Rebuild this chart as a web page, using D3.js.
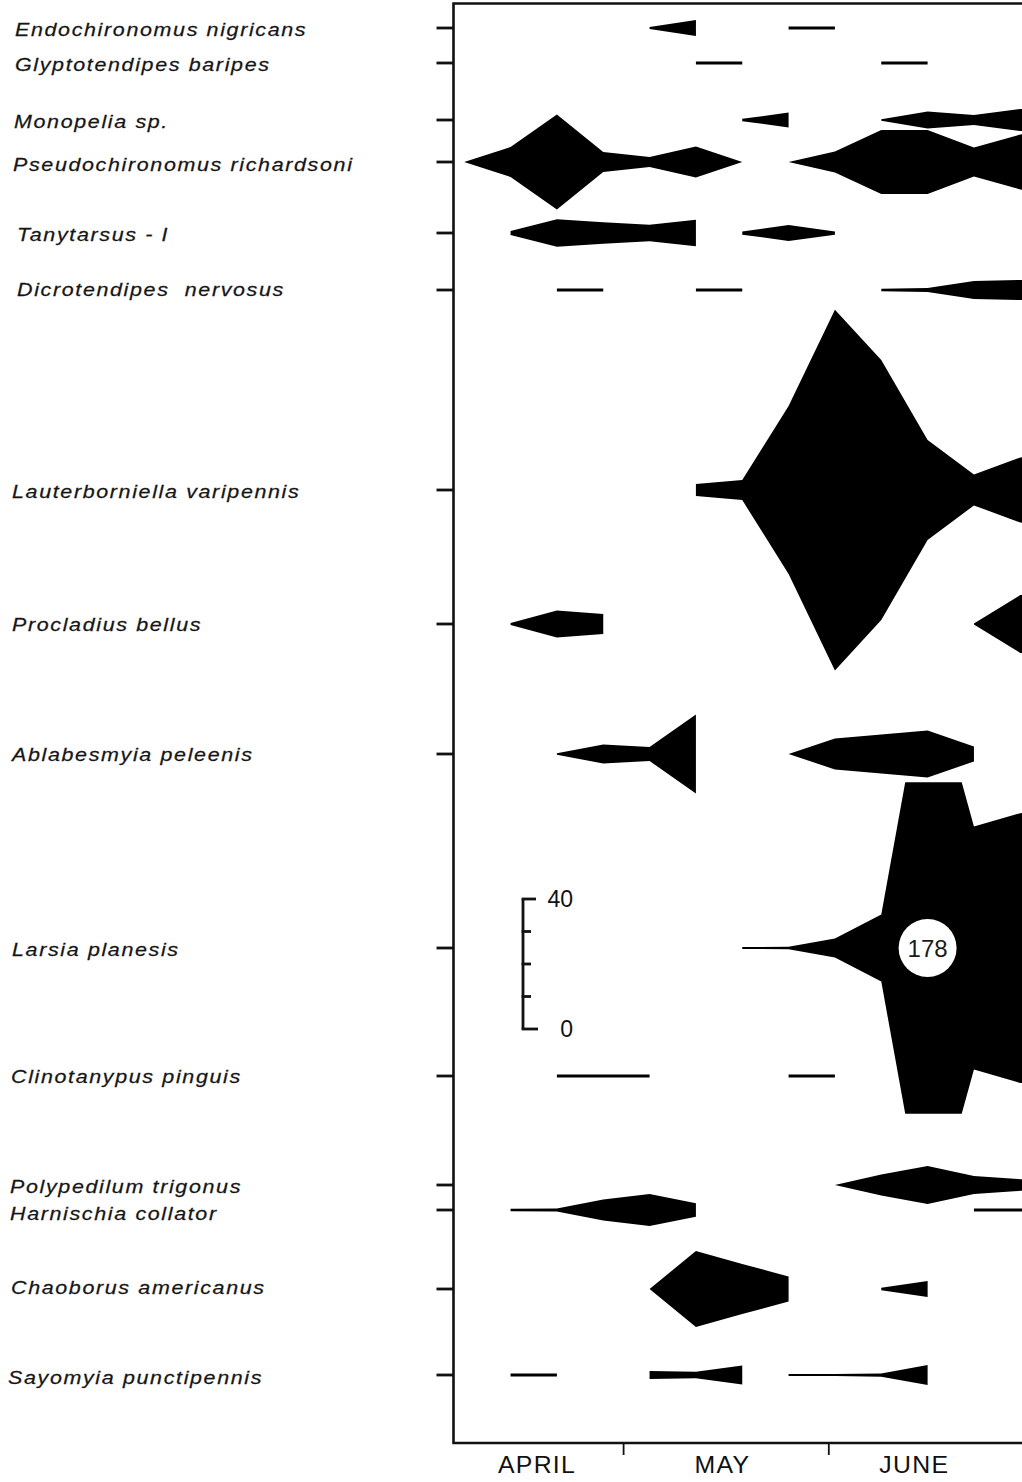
<!DOCTYPE html>
<html>
<head>
<meta charset="utf-8">
<script src="https://cdn.jsdelivr.net/npm/d3@7"></script>
<style>
  html, body { margin: 0; padding: 0; background: #fff; }
  svg { display: block; }
</style>
</head>
<body>
<svg id="chart" width="1022" height="1482"></svg>
<script>
// Weekly sampling dates (month-day)
const sampleDates = ["04-07", "04-14", "04-21", "04-28", "05-05", "05-12", "05-19",
                     "05-26", "06-02", "06-09", "06-16", "06-23", "06-30", "07-07"];

const species = [
  "Endochironomus nigricans", "Glyptotendipes baripes", "Monopelia sp.",
  "Pseudochironomus richardsoni", "Tanytarsus - I", "Dicrotendipes  nervosus",
  "Lauterborniella varipennis", "Procladius bellus", "Ablabesmyia peleenis",
  "Larsia planesis", "Clinotanypus pinguis", "Polypedilum trigonus",
  "Harnischia collator", "Chaoborus americanus", "Sayomyia punctipennis"
];

// Abundance runs: [index of first sampling date, consecutive values]
const endochironomus  = [[4, [0.6, 4.9]], [7, [0.85, 0.85]]];
const glyptotendipes  = [[5, [0.85, 0.85]], [9, [0.85, 0.85]]];
const monopelia       = [[6, [0.7, 4.6]], [9, [0.5, 5.3, 3.1, 6.8, 8]]];
const pseudochironomus = [[0, [0, 9.2, 29.2, 6.2, 3.1, 9.5, 0]], [7, [0, 6.5, 19.7, 19.7, 8.9, 16.9, 20]]];
const tanytarsus      = [[1, [1.2, 8.4, 6.6, 5.1, 8.2]], [6, [1.0, 4.9, 1.0]]];
const dicrotendipes   = [[2, [0.85, 0.85]], [5, [0.85, 0.85]], [9, [0.8, 1.3, 5.6, 6.2, 6.2]]];
const lauterborniella = [[5, [3.7, 6.2, 51.7, 111, 80, 30.8, 9.5, 20, 24]]];
const procladius      = [[1, [0.6, 8.3, 6.2]], [11, [0.3, 17.8, 18]]];
const ablabesmyia     = [[2, [0.5, 5.8, 4.3, 24.3]], [7, [0, 9.5, 12, 14.5, 4.6]]];
const larsia          = [[6, [0.6, 0.7, 5.8, 20.6, 178, 74.8, 83, 85]]];
const clinotanypus    = [[2, [0.85, 0.85, 0.85]], [7, [0.85, 0.85]]];
const polypedilum     = [[8, [0, 6.5, 11.7, 5.5, 3.6, 3.6]]];
const harnischia      = [[1, [0.7, 0.9, 6.5, 9.8, 4.2]], [11, [0.85, 0.85, 0.85]]];
const chaoborus       = [[4, [0, 23.4, 15.4, 7.7]], [9, [0.8, 4.9]]];
const sayomyia        = [[1, [0.85, 0.85]], [4, [2.4, 2.0, 5.9]], [7, [0.6, 0.6, 1.0, 6.2]]];

const seriesRuns = [endochironomus, glyptotendipes, monopelia, pseudochironomus, tanytarsus,
  dicrotendipes, lauterborniella, procladius, ablabesmyia, larsia, clinotanypus,
  polypedilum, harnischia, chaoborus, sayomyia];

// Widest kite drawn for Larsia; larger values are truncated and labelled
const larsiaLimit = 102;

const months = ["APRIL", "MAY", "JUNE"];
const monthLabelDays = ["04-18", "05-16", "06-14"];
const monthStarts = ["05-01", "06-01"];
const scaleBarTicks = [0, 10, 20, 30, 40];
const scaleBarLabels = [40, 0];

// ---- layout ----
const rowCenters = [28, 63, 120, 162, 233, 290, 490, 624, 754, 948, 1076, 1185, 1210, 1289, 1375];
const labelX = [15, 15, 14, 13, 17, 17, 12, 12, 12, 12, 11, 10, 10, 11, 8];
const labelDy = [8, 8, 8, 9, 8, 6, 8, 7, 7, 8, 7, 8, 10, 5, 9];
const frameLeft = 453.5, frameTop = 3.5, frameBottom = 1443, frameRight = 1040;
const ink = "#111";
const labelFont = "'Liberation Sans', Arial, Helvetica, sans-serif";

const parseDay = d3.utcParse("%m-%d");
const dates = sampleDates.map(parseDay);

const x = d3.scaleUtc()
  .domain([parseDay("04-01"), parseDay("07-01")])
  .range([424.5, 1026.9]);

const rowY = d3.scaleOrdinal().domain(species).range(rowCenters);

// full kite width for a value
const w = d3.scaleLinear().domain([0, 40]).range([0, 130]);

const svg = d3.select("#chart");
const defs = svg.append("defs");

// frame
svg.append("path")
  .attr("d", `M${frameRight},${frameTop}H${frameLeft}V${frameBottom}H${frameRight}`)
  .attr("fill", "none").attr("stroke", ink).attr("stroke-width", 2.6);

// month ticks on the time axis
const axis = d3.axisBottom(x)
  .tickValues(monthStarts.map(parseDay))
  .tickSize(12)
  .tickFormat("");
const gAxis = svg.append("g").attr("transform", `translate(0,${frameBottom})`).call(axis);
gAxis.select(".domain").remove();
gAxis.selectAll(".tick line").attr("stroke", ink).attr("stroke-width", 1.8);

svg.append("g").selectAll("text")
  .data(months)
  .join("text")
  .attr("transform", (d, i) => `translate(${x(parseDay(monthLabelDays[i]))},1473) scale(1.08,1)`)
  .attr("text-anchor", "middle")
  .attr("font-family", labelFont)
  .attr("font-size", 23)
  .attr("letter-spacing", 1.2)
  .attr("fill", ink)
  .text(d => d);

// species ticks and names
svg.append("g").selectAll("line")
  .data(species)
  .join("line")
  .attr("x1", frameLeft - 17).attr("x2", frameLeft)
  .attr("y1", d => rowY(d)).attr("y2", d => rowY(d))
  .attr("stroke", ink).attr("stroke-width", 2.8);

svg.append("g").selectAll("text")
  .data(species)
  .join("text")
  .attr("transform", (d, i) => `translate(${labelX[i]},${rowY(d) + labelDy[i]}) scale(1.13,1)`)
  .attr("font-family", labelFont)
  .attr("font-style", "italic")
  .attr("font-size", 19)
  .attr("letter-spacing", 1.45)
  .attr("fill", "#161616")
  .attr("stroke", "#161616")
  .attr("stroke-width", 0.25)
  .style("white-space", "pre")
  .text(d => d);

// kites
const kites = svg.append("g");
species.forEach((name, si) => {
  const cy = rowY(name);
  const area = d3.area()
    .x(d => x(dates[d.i]))
    .y0(d => cy - w(d.v) / 2)
    .y1(d => cy + w(d.v) / 2);
  const runs = seriesRuns[si];
  const limited = name === "Larsia planesis";
  let target = kites;
  if (limited) {
    const id = "clip-" + si;
    defs.append("clipPath").attr("id", id)
      .append("rect")
      .attr("x", frameLeft).attr("width", 1000)
      .attr("y", cy - w(larsiaLimit) / 2).attr("height", w(larsiaLimit));
    target = kites.append("g").attr("clip-path", `url(#${id})`);
  }
  runs.forEach(([start, vals]) => {
    const pts = vals.map((v, k) => ({ i: start + k, v }));
    target.append("path").attr("d", area(pts)).attr("fill", "#000");
  });
  if (limited) {
    runs.forEach(([start, vals]) => {
      vals.forEach((v, k) => {
        if (v > larsiaLimit) {
          const cx = x(dates[start + k]);
          kites.append("circle").attr("cx", cx).attr("cy", cy).attr("r", 29).attr("fill", "#fff");
          kites.append("text")
            .attr("x", cx).attr("y", cy + 8.5)
            .attr("text-anchor", "middle")
            .attr("font-family", labelFont)
            .attr("font-size", 24)
            .attr("fill", "#1a1a1a")
            .text(v);
        }
      });
    });
  }
});

// scale bar
const barX = 523, barBottom = 1029;
const barScale = d3.scaleLinear().domain([0, 40]).range([barBottom, barBottom - w(40)]);
const gBar = svg.append("g");
gBar.append("line")
  .attr("x1", barX).attr("x2", barX)
  .attr("y1", barScale(0)).attr("y2", barScale(40))
  .attr("stroke", ink).attr("stroke-width", 2.8);
gBar.selectAll("line.t")
  .data(scaleBarTicks)
  .join("line")
  .attr("class", "t")
  .attr("x1", barX - 1.4)
  .attr("x2", d => barX + (d === 0 ? 15 : d === 40 ? 13 : 8))
  .attr("y1", d => barScale(d)).attr("y2", d => barScale(d))
  .attr("stroke", ink).attr("stroke-width", 2.8);
gBar.selectAll("text")
  .data(scaleBarLabels)
  .join("text")
  .attr("x", 573)
  .attr("y", d => barScale(d) + 8)
  .attr("text-anchor", "end")
  .attr("font-family", labelFont)
  .attr("font-size", 23)
  .attr("fill", ink)
  .text(d => d);
</script>
</body>
</html>
